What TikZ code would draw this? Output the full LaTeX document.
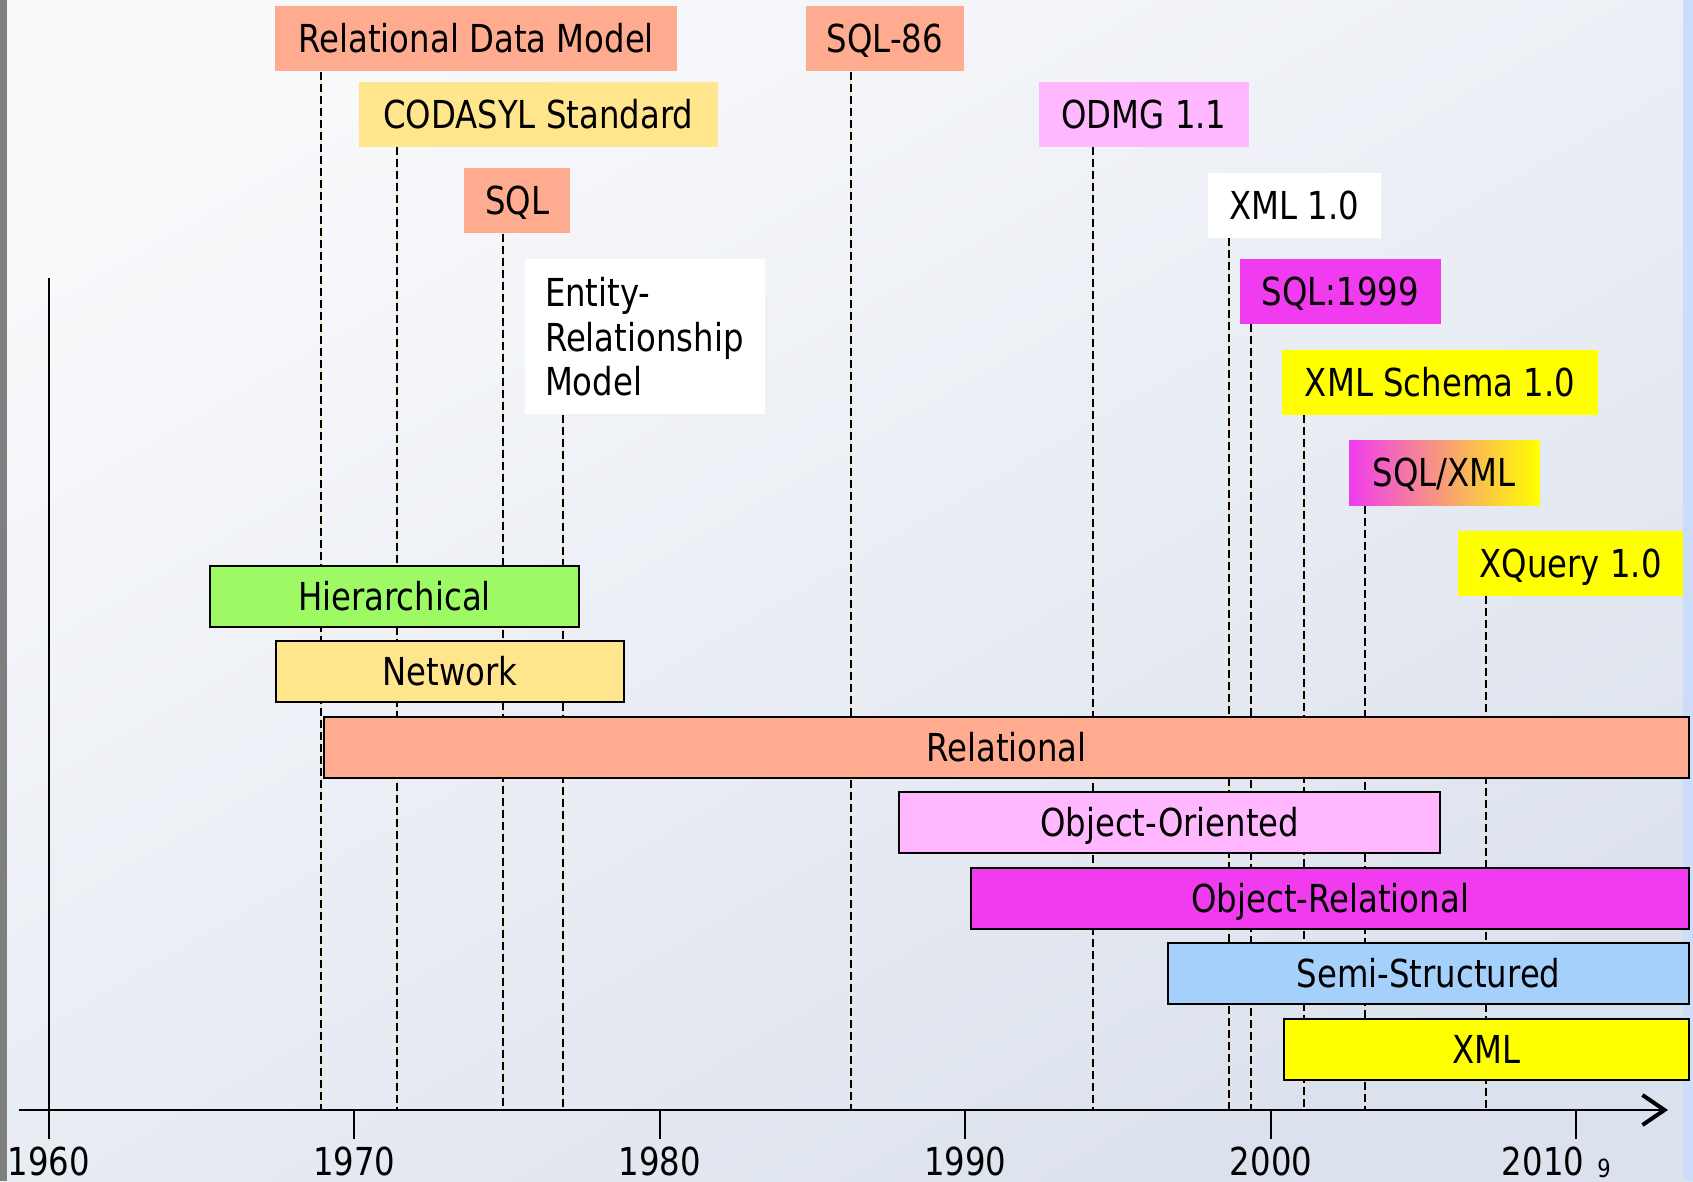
\documentclass[tikz,border=0pt]{standalone}
\usepackage{fontspec}
\setmainfont{DejaVu Sans}[FakeStretch=0.84]
\usetikzlibrary{arrows.meta}
\definecolor{csalmon}{HTML}{FFAB90}
\definecolor{cpaleyel}{HTML}{FFE68C}
\definecolor{cgreen}{HTML}{9DFA64}
\definecolor{cpink}{HTML}{FFB8FF}
\definecolor{cmagenta}{HTML}{F03CEE}
\definecolor{cblue}{HTML}{A6D0FC}
\definecolor{cyellow}{HTML}{FFFF00}
\definecolor{bgtl}{HTML}{F8F9FB}
\definecolor{bgmid}{HTML}{E7EAF0}
\definecolor{bgbr}{HTML}{DCE2ED}
\definecolor{guideyel}{HTML}{F3E2A6}
\definecolor{stripgray}{HTML}{7F7F7F}
\definecolor{stripblue}{HTML}{CCDDFA}
\begin{document}
\begin{tikzpicture}[x=1bp,y=-1bp,
  every node/.style={font=\fontsize{38.5bp}{44bp}\selectfont, inner sep=0pt, text=black},
  oneline/.style={text height=28bp, text depth=0bp},
  evtbox/.style={oneline, fill=#1, minimum height=65bp},
  eraband/.style={oneline, fill=#1, draw=black, line width=2bp, minimum height=61bp},
  guide/.style={preaction={draw=guideyel, line width=1.2bp, solid}, draw=black, line width=2bp, dash pattern=on 8bp off 4bp},
  axisline/.style={draw=black, line width=2bp},
  yearlbl/.style={anchor=base}
]
\useasboundingbox (0,0) rectangle (1693,1181);
% background
\shade[top color=bgtl, middle color=bgmid, bottom color=bgbr, shading angle=30] (0,0) rectangle (1693,1181);
\fill[stripgray] (0,0) rectangle (7,1181);
\fill[stripblue] (1683,0) rectangle (1693,1181);

% axis coordinates for the guides
\coordinate (d1) at (320.7,1110);
\coordinate (d2) at (397.3,1110);
\coordinate (d3) at (503.1,1110);
\coordinate (d4) at (563.3,1110);
\coordinate (d5) at (850.8,1110);
\coordinate (d6) at (1092.7,1110);
\coordinate (d7) at (1229,1110);
\coordinate (d8) at (1251.4,1110);
\coordinate (d9) at (1304.3,1110);
\coordinate (d10) at (1364.7,1110);
\coordinate (d11) at (1485.7,1110);

% event labels
\node[evtbox=csalmon, minimum width=401.7bp] (rdm) at (476.2,38.8) {Relational Data Model};
\node[evtbox=cpaleyel, minimum width=359.5bp] (cod) at (538.3,114.5) {CODASYL Standard};
\node[evtbox=csalmon, minimum width=105.8bp] (sql) at (517.2,200.8) {SQL};
\node[fill=white, minimum height=155.3bp, text width=200bp, inner xsep=20bp, align=left,
      font=\fontsize{38.5bp}{44.5bp}\selectfont] (er) at (645,336.7) {Entity-\\Relationship\\Model};
\node[evtbox=csalmon, minimum width=158.7bp] (sql86) at (884.9,38.8) {SQL-86};
\node[evtbox=cpink, minimum width=210.5bp] (odmg) at (1144,114.5) {ODMG 1.1};
\node[evtbox=white, minimum width=173bp] (xml10) at (1294.5,205.3) {XML 1.0};
\node[evtbox=cmagenta, minimum width=201bp] (sql99) at (1340.5,291.3) {SQL:1999};
\node[evtbox=cyellow, minimum width=316bp] (xmls) at (1440,382.3) {XML Schema 1.0};
\node[oneline, left color=cmagenta, right color=cyellow, minimum height=65bp, minimum width=190.3bp] (sqlxml) at (1444.2,472.8) {SQL/XML};
\node[evtbox=cyellow, minimum width=225.3bp] (xq) at (1570.7,563.2) {XQuery 1.0};

% guides
\draw[guide] (rdm.south -| d1) -- (d1);
\draw[guide] (cod.south -| d2) -- (d2);
\draw[guide] (sql.south -| d3) -- (d3);
\draw[guide] (er.south -| d4) -- (d4);
\draw[guide] (sql86.south -| d5) -- (d5);
\draw[guide] (odmg.south -| d6) -- (d6);
\draw[guide] (xml10.south -| d7) -- (d7);
\draw[guide] (sql99.south -| d8) -- (d8);
\draw[guide] (xmls.south -| d9) -- (d9);
\draw[guide] (sqlxml.south -| d10) -- (d10);
\draw[guide] (xq.south -| d11) -- (d11);

% eras
\node[eraband=cgreen, minimum width=368.7bp] (hier) at (394.4,596.2) {Hierarchical};
\node[eraband=cpaleyel, minimum width=348.3bp] (net) at (449.9,671.5) {Network};
\node[eraband=csalmon, minimum width=1365bp] (rel) at (1006.5,747.2) {Relational};
\node[eraband=cpink, minimum width=541.3bp] (oo) at (1169.7,822.7) {Object-Oriented};
\node[eraband=cmagenta, minimum width=717.7bp] (orel) at (1330.2,898.7) {Object-Relational};
\node[eraband=cblue, minimum width=520.8bp] (semi) at (1428.6,973.9) {Semi-Structured};
\node[eraband=cyellow, minimum width=405.2bp] (xmlera) at (1486.4,1049.5) {XML};

% axes
\coordinate (ax0) at (19,1110);
\coordinate (ax1) at (1668,1110);
\draw[axisline, -{Straight Barb[length=22bp, width=30bp, line width=4bp]}] (ax0) -- (ax1);
\coordinate (vtop) at (48.6,278);
\coordinate (vbot) at (48.6,1139);
\draw[axisline] (vtop) -- (vbot);
\coordinate (t1970) at (354.2,1110);
\coordinate (t1980) at (659.8,1110);
\coordinate (t1990) at (965.4,1110);
\coordinate (t2000) at (1271,1110);
\coordinate (t2010) at (1576.4,1110);
\foreach \t in {t1970,t1980,t1990,t2000,t2010} \draw[axisline] (\t) -- ++(0,29);
\node[yearlbl] (y1960) at (48.6,1175) {1960};
\node[yearlbl] (y1970) at (354.2,1175) {1970};
\node[yearlbl] (y1980) at (659.8,1175) {1980};
\node[yearlbl] (y1990) at (965.4,1175) {1990};
\node[yearlbl] (y2000) at (1271,1175) {2000};
\node[yearlbl] (y2010) at (1543,1175) {2010};
\node[yearlbl, font=\fontsize{25bp}{28bp}\selectfont] (pg) at (1604,1177) {9};
\end{tikzpicture}
\end{document}
